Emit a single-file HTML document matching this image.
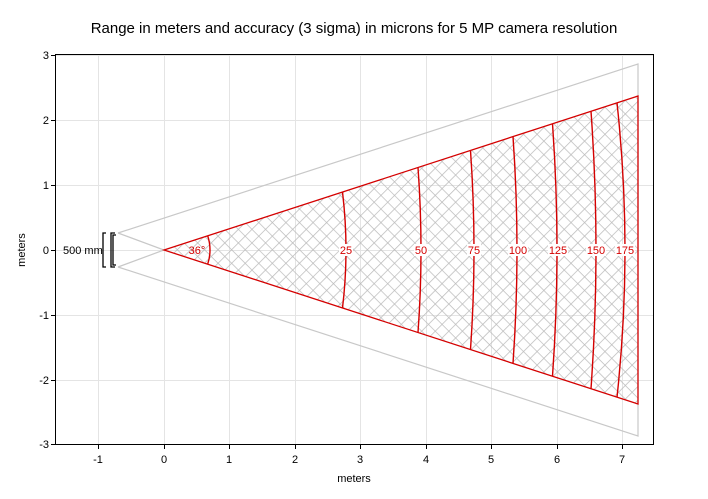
<!DOCTYPE html>
<html><head><style>body{margin:0;background:#fff}svg{display:block;font-family:"Liberation Sans",Arial,sans-serif}</style></head><body>
<svg width="708" height="499" viewBox="0 0 708 499" xmlns="http://www.w3.org/2000/svg">
<defs>
<pattern id="h" patternUnits="userSpaceOnUse" width="9.6" height="9.6" patternTransform="rotate(45 164 250)">
<path d="M0 0H9.6M0 0V9.6" stroke="#bcbcbc" stroke-width="1.5" fill="none"/>
</pattern>
</defs>
<text x="354" y="33" font-size="15" text-anchor="middle" fill="#000">Range in meters and accuracy (3 sigma) in microns for 5 MP camera resolution</text>
<g stroke="#e4e4e4" stroke-width="1">
<path d="M98.5 55V444M164.5 55V444M229.5 55V444M295.5 55V444M360.5 55V444M426.5 55V444M491.5 55V444M557.5 55V444M622.5 55V444"/>
<path d="M55 55.5H654M55 120.5H654M55 185.5H654M55 250.5H654M55 315.5H654M55 380.5H654"/>
</g>
<path d="M164 250L638 96V404Z" fill="url(#h)"/>
<g stroke="#c8c8c8" stroke-width="1.2" fill="none">
<path d="M118 233L638 64V436L118 267"/>
<path d="M118 233L164 250L118 267"/>
</g>
<g stroke="#000" stroke-width="1.3" fill="none">
<path d="M106 233H103V267H106"/>
<path d="M115 233H111V267H115M116 235H113V265H116"/>
</g>
<text x="63" y="254" font-size="11">500 mm</text>
<path d="M164 250L638 96V404Z" stroke="#d40000" stroke-width="1.3" fill="none"/>
<g stroke="#d40000" stroke-width="1.4" fill="none">
<path d="M207.7 235.8A46 46 0 0 1 207.7 264.2"/>
<path d="M342.5 192Q349.5 250 342.5 308"/>
<path d="M418 167.4Q424 250 418 332.6"/>
<path d="M470.5 150.4Q477.5 250 470.5 349.6"/>
<path d="M513 136.6Q521 250 513 363.4"/>
<path d="M552.5 123.9Q561.5 250 552.5 376.1"/>
<path d="M591 111.2Q601 250 591 388.8"/>
<path d="M617 102.8Q633 250 617 397.2"/>
</g>
<g font-size="11" fill="#d40000" text-anchor="middle">
<text x="197" y="254">36°</text>
<rect x="339" y="244" width="14" height="12" fill="#fff"/><text x="346" y="254">25</text>
<rect x="414" y="244" width="14" height="12" fill="#fff"/><text x="421" y="254">50</text>
<rect x="467" y="244" width="14" height="12" fill="#fff"/><text x="474" y="254">75</text>
<rect x="508" y="244" width="20" height="12" fill="#fff"/><text x="518" y="254">100</text>
<rect x="548" y="244" width="20" height="12" fill="#fff"/><text x="558" y="254">125</text>
<rect x="586" y="244" width="20" height="12" fill="#fff"/><text x="596" y="254">150</text>
<rect x="615" y="244" width="20" height="12" fill="#fff"/><text x="625" y="254">175</text>
</g>
<rect x="55.5" y="54.5" width="598" height="390" fill="none" stroke="#000" stroke-width="1"/>
<g stroke="#000" stroke-width="1">
<path d="M51 55.5H55M51 120.5H55M51 185.5H55M51 250.5H55M51 315.5H55M51 380.5H55M51 444.5H55"/>
<path d="M98.5 445V449M164.5 445V449M229.5 445V449M295.5 445V449M360.5 445V449M426.5 445V449M491.5 445V449M557.5 445V449M622.5 445V449"/>
</g>
<g font-size="11" fill="#000" text-anchor="end">
<text x="49" y="59">3</text><text x="49" y="124">2</text><text x="49" y="189">1</text><text x="49" y="254">0</text><text x="49" y="319">-1</text><text x="49" y="384">-2</text><text x="49" y="448">-3</text>
</g>
<g font-size="11" fill="#000" text-anchor="middle">
<text x="98" y="463">-1</text><text x="164" y="463">0</text><text x="229" y="463">1</text><text x="295" y="463">2</text><text x="360" y="463">3</text><text x="426" y="463">4</text><text x="491" y="463">5</text><text x="557" y="463">6</text><text x="622" y="463">7</text>
<text x="354" y="482">meters</text>
<text transform="translate(25 250) rotate(-90)">meters</text>
</g>
</svg>
</body></html>
